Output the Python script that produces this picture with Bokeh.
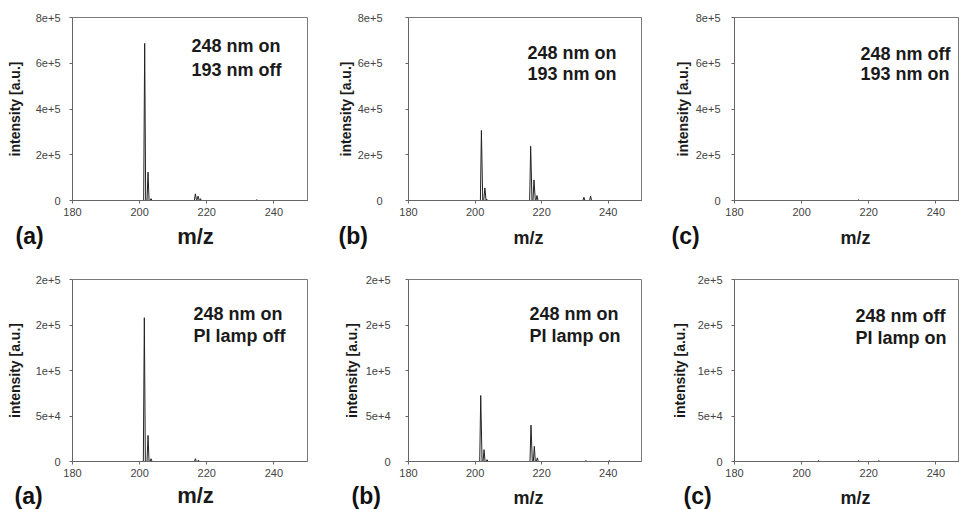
from bokeh.plotting import figure
from bokeh.layouts import column, row
from bokeh.models import Label, FixedTicker, Range1d
from bokeh.embed import file_html
from bokeh.resources import INLINE

# ---------------- data ----------------
# top row: 248 nm / 193 nm
mz_top_a = [180, 201.2, 201.5, 201.8, 202.2, 202.5, 202.8, 203.1, 203.4, 203.7,
            216.3, 216.6, 216.9, 217.1, 217.4, 217.7, 217.9, 218.1, 218.4,
            234.6, 234.9, 235.2, 250]
int_top_a = [0, 0, 687000, 0, 0, 124000, 0, 0, 8000, 0,
             0, 29000, 4000, 3000, 19000, 2000, 0, 8000, 0,
             0, 3000, 0, 0]

mz_top_b = [180, 201.6, 201.9, 202.3, 202.6, 202.95, 203.3, 203.5, 203.7, 204.0,
            216.4, 216.7, 217.1, 217.4, 217.7, 218.1, 218.3, 218.6, 218.9,
            232.4, 232.7, 233.0, 234.4, 234.7, 235.0, 250]
int_top_b = [0, 0, 306000, 0, 0, 55000, 0, 6000, 0, 0,
             0, 237000, 0, 0, 90000, 0, 0, 22000, 0,
             0, 14000, 0, 0, 19000, 0, 0]

mz_top_c = [180, 216.7, 217.0, 217.3, 250]
int_top_c = [0, 0, 3000, 0, 0]

# bottom row: 248 nm / PI lamp
mz_bot_a = [180, 201.1, 201.4, 201.7, 202.2, 202.5, 202.8, 203.1, 203.4, 203.7,
            216.3, 216.6, 216.9, 217.2, 217.5, 217.8, 250]
int_bot_a = [0, 0, 158000, 0, 0, 28700, 0, 0, 3000, 0,
             0, 3000, 0, 0, 1500, 0, 0]

mz_bot_b = [180, 201.4, 201.7, 202.1, 202.4, 202.7, 203.0, 203.3, 203.6, 203.9,
            216.5, 216.8, 217.2, 217.5, 217.8, 218.1, 218.4, 218.7, 219.0,
            233.0, 233.3, 233.6, 240.0, 240.3, 240.6, 250]
int_bot_b = [0, 0, 72500, 0, 0, 13000, 0, 0, 2000, 0,
             0, 40000, 0, 0, 16700, 0, 0, 4000, 0,
             0, 1000, 0, 0, 1000, 0, 0]

mz_bot_c = [180, 204.7, 205.0, 205.3, 216.7, 217.0, 217.3, 222.7, 223.0, 223.3, 250]
int_bot_c = [0, 0, 1000, 0, 0, 1000, 0, 0, 1000, 0, 0]

x_ticks = [180, 200, 220, 240]
y_ticks_top = [0, 200000, 400000, 600000, 800000]
y_labels_top = ["0", "2e+5", "4e+5", "6e+5", "8e+5"]
y_ticks_bot = [0, 50000, 100000, 150000, 200000]
y_labels_bot = ["0", "5e+4", "1e+5", "2e+5", "2e+5"]

letters = ["(a)", "(b)", "(c)"]
texts_top = [("248 nm on", "193 nm off"), ("248 nm on", "193 nm on"), ("248 nm off", "193 nm on")]
texts_bot = [("248 nm on", "PI lamp off"), ("248 nm on", "PI lamp on"), ("248 nm off", "PI lamp on")]

x_label = "m/z"
y_label = "intensity [a.u.]"

# ---------------- layout / style ----------------
FONT = "Liberation Sans"
cols = [  # min_border_left, frame_width, min_border_right, x_end
    dict(mbl=72, fw=235, mbr=23, xend=250.0),
    dict(mbl=78, fw=233, mbr=9, xend=250.0),
    dict(mbl=84, fw=225, mbr=0, xend=180 + 225 * 70 / 235),
]
# y-axis tick-label standoff / axis-label standoff per panel
ysd_top = [(9, 10), (23, 1), (11, 2)]
ysd_bot = [(9, 10), (15, 3), (9, 7)]
rows_cfg = [dict(mbt=17, mbb=20, fh=183), dict(mbt=29, mbb=20, fh=182)]
STRIP_H = [30, 28]
text_off_top = [(119, 28, 52), (119, 35, 56), (126, 36, 56)]
text_off_bot = [(121, 34, 56), (121, 34, 56), (121, 36, 58)]
# strip texts: x (page px), y from strip top, font size
letter_pos_top = [(15, 15, "23px"), (338, 15, "23px"), (671, 15, "23px")]
letter_pos_bot = [(14, 14, "23px"), (351, 14, "23px"), (683, 14, "23px")]
mz_pos_top = [(195, 16, "22px"), (528, 17, "18px"), (855, 17, "18px")]
mz_pos_bot = [(195, 14, "22px"), (528, 16, "18px"), (855, 16, "18px")]


def make_panel(mz, inten, yticks, ylabels, ymax, lines, c, r, ysd, toff):
    FH = r["fh"]
    p = figure(output_backend="svg", toolbar_location=None,
               frame_width=c["fw"], frame_height=FH,
               min_border_left=c["mbl"], min_border_right=c["mbr"],
               min_border_top=r["mbt"], min_border_bottom=r["mbb"],
               x_range=Range1d(180, c["xend"]), y_range=Range1d(0, ymax),
               background_fill_color="white", border_fill_color="white")
    p.outline_line_color = "#7a7a7a"
    p.outline_line_width = 1
    p.xgrid.visible = False
    p.ygrid.visible = False
    p.line(mz, inten, line_color="#222222", line_width=1)

    for ax in (p.xaxis[0], p.yaxis[0]):
        ax.axis_line_color = "#666666"
        ax.major_tick_line_color = "#666666"
        ax.major_tick_in = 0
        ax.major_tick_out = 3
        ax.minor_tick_line_color = None
        ax.major_label_text_font = FONT
        ax.major_label_text_font_size = "11px"
        ax.major_label_text_color = "#444444"
        ax.axis_label_text_font = FONT
        ax.axis_label_text_font_style = "bold"
        ax.axis_label_text_color = "#1a1a1a"

    xa = p.xaxis[0]
    xa.ticker = FixedTicker(ticks=x_ticks)
    xa.major_label_standoff = 4

    ya = p.yaxis[0]
    ya.ticker = FixedTicker(ticks=yticks)
    ya.major_label_overrides = {t: l for t, l in zip(yticks, ylabels)}
    ya.axis_label = y_label
    ya.axis_label_text_font_size = "14px"
    ya.major_label_standoff = ysd[0]
    ya.axis_label_standoff = ysd[1]

    for text, dy in ((lines[0], toff[1]), (lines[1], toff[2])):
        p.add_layout(Label(x=toff[0], y=FH - dy, x_units="screen", y_units="screen",
                           text=text, text_font=FONT, text_font_size="18px",
                           text_font_style="bold", text_color="#1a1a1a",
                           text_baseline="middle", text_align="left"))
    return p


def make_strip(h, letter_pos, mz_pos):
    W = sum(c["mbl"] + c["fw"] + c["mbr"] for c in cols)
    s = figure(output_backend="svg", toolbar_location=None,
               frame_width=W, frame_height=h,
               min_border_left=0, min_border_right=0, min_border_top=0, min_border_bottom=0,
               x_range=Range1d(0, W), y_range=Range1d(h, 0),
               background_fill_color="white", border_fill_color="white")
    s.axis.visible = False
    s.grid.visible = False
    s.outline_line_color = None
    for i in range(3):
        lx, ly, lsz = letter_pos[i]
        s.add_layout(Label(x=lx, y=ly, text=letters[i], text_font=FONT, text_font_size=lsz,
                           text_font_style="bold", text_color="#111111",
                           text_baseline="middle", text_align="left"))
        mx, my, msz = mz_pos[i]
        s.add_layout(Label(x=mx, y=my, text=x_label, text_font=FONT, text_font_size=msz,
                           text_font_style="bold", text_color="#1a1a1a",
                           text_baseline="middle", text_align="center"))
    return s


top_data = [(mz_top_a, int_top_a), (mz_top_b, int_top_b), (mz_top_c, int_top_c)]
bot_data = [(mz_bot_a, int_bot_a), (mz_bot_b, int_bot_b), (mz_bot_c, int_bot_c)]

top_figs = [make_panel(top_data[i][0], top_data[i][1], y_ticks_top, y_labels_top, 800000,
                       texts_top[i], cols[i], rows_cfg[0], ysd_top[i], text_off_top[i])
            for i in range(3)]
bot_figs = [make_panel(bot_data[i][0], bot_data[i][1], y_ticks_bot, y_labels_bot, 200000,
                       texts_bot[i], cols[i], rows_cfg[1], ysd_bot[i], text_off_bot[i])
            for i in range(3)]

layout = column(row(*top_figs, spacing=0),
                make_strip(STRIP_H[0], letter_pos_top, mz_pos_top),
                row(*bot_figs, spacing=0),
                make_strip(STRIP_H[1], letter_pos_bot, mz_pos_bot),
                spacing=0)

open("out.html", "w").write(file_html(layout, INLINE))
